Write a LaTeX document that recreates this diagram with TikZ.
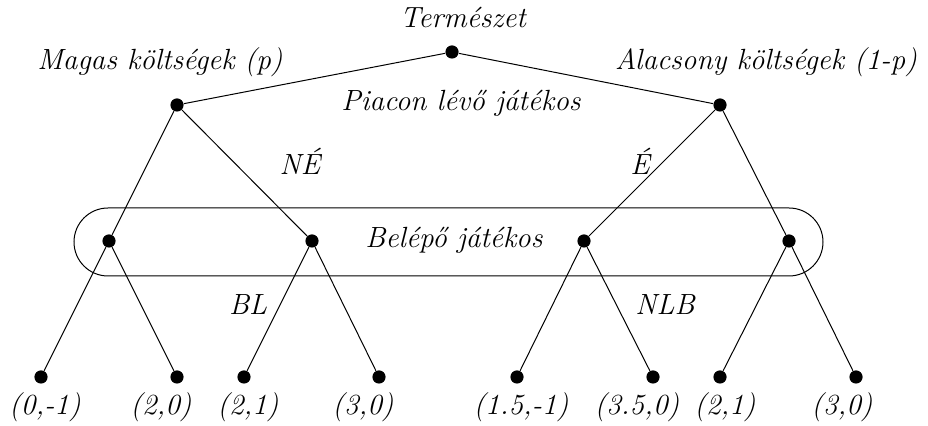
\documentclass[tikz,border=0pt]{standalone}
\begin{document}
\begin{tikzpicture}[x=0.5pt,y=-0.5pt,
  dot/.style={circle,fill,inner sep=0pt,minimum size=6.6pt},
  lbl/.style={font=\fontsize{14.6}{18}\selectfont\itshape, inner sep=0pt},
  edge/.style={line width=0.5pt}]
\useasboundingbox (0,0) rectangle (928,426);
% info set
\node[draw, line width=0.5pt, rounded corners=17pt, minimum width=374.5pt, minimum height=34pt, inner sep=0pt] (info) at (448.5,242) {};
% nodes
\node[dot] (root) at (452,52) {};
\node[dot] (L1) at (177,105) {};
\node[dot] (R1) at (720,105) {};
\node[dot] (A) at (109,241) {};
\node[dot] (B) at (312,241) {};
\node[dot] (C) at (584,241) {};
\node[dot] (D) at (789,241) {};
\node[dot] (a1) at (41,377) {};
\node[dot] (a2) at (177,377) {};
\node[dot] (b1) at (244,377) {};
\node[dot] (b2) at (379,377) {};
\node[dot] (c1) at (517,377) {};
\node[dot] (c2) at (653,377) {};
\node[dot] (d1) at (720,377) {};
\node[dot] (d2) at (856,377) {};
% edges
\draw[edge] (root) -- (L1);
\draw[edge] (root) -- (R1);
\draw[edge] (L1) -- (A);
\draw[edge] (L1) -- (B);
\draw[edge] (R1) -- (C);
\draw[edge] (R1) -- (D);
\draw[edge] (A) -- (a1);
\draw[edge] (A) -- (a2);
\draw[edge] (B) -- (b1);
\draw[edge] (B) -- (b2);
\draw[edge] (C) -- (c1);
\draw[edge] (C) -- (c2);
\draw[edge] (D) -- (d1);
\draw[edge] (D) -- (d2);
% labels
\node[lbl] (tT) at (463,17) {Természet};
\node[lbl] (tM) at (160,62) {Magas költségek (p)};
\node[lbl] (tA) at (766,62) {Alacsony költségek (1-p)};
\node[lbl] (tP) at (461,103) {Piacon lévő játékos};
\node[lbl] (tNE) at (300,161) {NÉ};
\node[lbl] (tE) at (640,161) {É};
\node[lbl] (tB) at (454,240) {Belépő játékos};
\node[lbl] (tBL) at (248,305) {BL};
\node[lbl] (tNLB) at (665,305) {NLB};
\node[lbl] (p1) at (45,407) {(0,-1)};
\node[lbl] (p2) at (161,407) {(2,0)};
\node[lbl] (p3) at (248,407) {(2,1)};
\node[lbl] (p4) at (363,407) {(3,0)};
\node[lbl] (p5) at (521,407) {(1.5,-1)};
\node[lbl] (p6) at (637,407) {(3.5,0)};
\node[lbl] (p7) at (725,407) {(2,1)};
\node[lbl] (p8) at (842,407) {(3,0)};
\end{tikzpicture}
\end{document}
